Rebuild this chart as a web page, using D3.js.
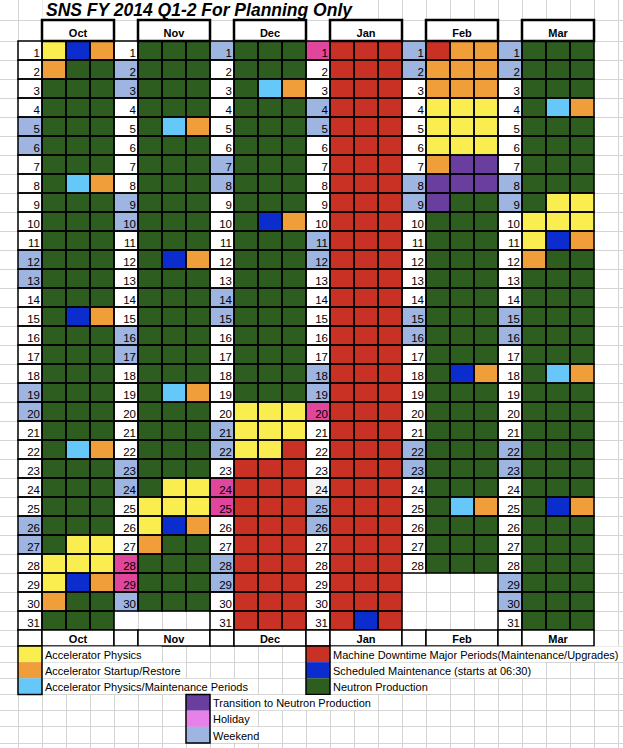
<!DOCTYPE html>
<html><head><meta charset="utf-8">
<script src="https://cdn.jsdelivr.net/npm/d3@7"></script>
<style>
body{margin:0;background:#fff}
svg{display:block}
text{font-family:Arial,"Liberation Sans",sans-serif}
</style>
</head><body><div id="chart"></div>
<script>
// ---------- DATA ----------
const title = "SNS FY 2014 Q1-2 For Planning Only";
const months = ["Oct","Nov","Dec","Jan","Feb","Mar"];
const daysInMonth = [31,30,31,31,28,31];
const weekendDays = [
  [5,6,12,13,19,20,26,27],
  [2,3,9,10,16,17,23,24,30],
  [1,7,8,14,15,21,22,28,29],
  [4,5,11,12,18,19,25,26],
  [1,2,8,9,15,16,22,23],
  [1,2,8,9,15,16,22,23,29,30]
];
const holidayDays = [[],[28,29],[24,25],[1,20],[],[]];
const selectedDays = [[],[],[],[24],[],[]];

// three shift codes per day
const octShifts = ["YBO","OGG","GGG","GGG","GGG","GGG","GGG","GLO","GGG","GGG",
                   "GGG","GGG","GGG","GGG","GBO","GGG","GGG","GGG","GGG","GGG",
                   "GGG","GLO","GGG","GGG","GGG","GGG","GYY","YYY","YBO","OGG","GGG"];
const novShifts = ["GGG","GGG","GGG","GGG","GLO","GGG","GGG","GGG","GGG","GGG",
                   "GGG","GBO","GGG","GGG","GGG","GGG","GGG","GGG","GLO","GGG",
                   "GGG","GGG","GGG","GYY","YYY","YBO","OGG","GGG","GGG","GGG"];
const decShifts = ["GGG","GGG","GLO","GGG","GGG","GGG","GGG","GGG","GGG","GBO",
                   "GGG","GGG","GGG","GGG","GGG","GGG","GGG","GGG","GGG","YYY",
                   "YYY","YYR","RRR","RRR","RRR","RRR","RRR","RRR","RRR","RRR","RRR"];
const janShifts = ["RRR","RRR","RRR","RRR","RRR","RRR","RRR","RRR","RRR","RRR",
                   "RRR","RRR","RRR","RRR","RRR","RRR","RRR","RRR","RRR","RRR",
                   "RRR","RRR","RRR","RRR","RRR","RRR","RRR","RRR","RRR","RRR","RBR"];
const febShifts = ["ROO","OOO","OOO","YYY","YYY","YYY","OPP","PPP","PGG","GGG",
                   "GGG","GGG","GGG","GGG","GGG","GGG","GGG","GBO","GGG","GGG",
                   "GGG","GGG","GGG","GGG","GLO","GGG","GGG","GGG"];
const marShifts = ["GGG","GGG","GGG","GLO","GGG","GGG","GGG","GGG","GYY","YYY",
                   "YBO","OGG","GGG","GGG","GGG","GGG","GGG","GLO","GGG","GGG",
                   "GGG","GGG","GGG","GGG","GBO","GGG","GGG","GGG","GGG","GGG","GGG"];
const monthShifts = [octShifts, novShifts, decShifts, janShifts, febShifts, marShifts];

const categoryCodes  = ["Y","O","L","R","B","G","P","H","W"];
const categoryLabels = ["Accelerator Physics","Accelerator Startup/Restore",
  "Accelerator Physics/Maintenance Periods",
  "Machine Downtime Major Periods(Maintenance/Upgrades)",
  "Scheduled Maintenance (starts at 06:30)","Neutron Production",
  "Transition to Neutron Production","Holiday","Weekend"];
const categoryColors = ["#f9ed4f","#ef9e3a","#66c8f9","#c83123","#0c2dcd","#2d5e20",
  "#6a3e9e","#e880ea","#9db5e0"];
const holidayCellColor = "#e0469b";
const selectedCellColor = "#f2f2f2";

// ---------- LAYOUT ----------
const W = 623, H = 748;
const svg = d3.select("#chart").append("svg").attr("width", W).attr("height", H);
svg.append("rect").attr("width", W).attr("height", H).attr("fill", "#fff");

const color = d3.scaleOrdinal().domain(categoryCodes).range(categoryColors);
const xCol = d3.scaleLinear().domain([0, 24]).range([18, 594]);
const xMonth = d3.scaleBand().domain(months).range([xCol(0), xCol(24)]);
const xSub = d3.scaleBand().domain(["day","s0","s1","s2"]).range([0, xMonth.bandwidth()]);
const yDay = d3.scaleBand().domain(d3.range(1, 32)).range([41, 630]);
const yLegend = d3.scaleBand().domain(d3.range(6)).range([646, 743]);
const headerTop = 20, footerTop = 630, footerBottom = 646;

// gray spreadsheet grid
const grid = svg.append("g").attr("stroke", "#d4d4d4").attr("stroke-width", 1).attr("shape-rendering", "crispEdges");
d3.range(0, 26).forEach(k => {
  grid.append("line").attr("x1", xCol(k)).attr("x2", xCol(k)).attr("y1", 0).attr("y2", H);
});
const hLines = [headerTop].concat(d3.range(1, 32).map(d => yDay(d)), [footerTop, footerBottom],
  d3.range(1, 6).map(i => yLegend(i)), [yLegend(5) + yLegend.bandwidth()]);
hLines.forEach(y => grid.append("line").attr("x1", 0).attr("x2", W).attr("y1", y).attr("y2", y));

// title
svg.append("rect").attr("x", xCol(1) + 0.5).attr("y", 0).attr("width", xCol(15) - xCol(1) - 1)
  .attr("height", headerTop - 0.5).attr("fill", "#fff");
svg.append("text").attr("x", 46).attr("y", 16).attr("font-size", 17.5)
  .attr("font-weight", "bold").attr("font-style", "italic").attr("fill", "#000").text(title);

// calendar cells
const cal = svg.append("g");
months.forEach((m, mi) => {
  const x0 = xMonth(m);
  const shifts = monthShifts[mi];
  for (let d = 1; d <= daysInMonth[mi]; d++) {
    let dayFill = "#fff";
    if (weekendDays[mi].includes(d)) dayFill = color("W");
    if (holidayDays[mi].includes(d)) dayFill = holidayCellColor;
    if (selectedDays[mi].includes(d)) dayFill = selectedCellColor;
    const y = yDay(d), h = yDay.bandwidth();
    cal.append("rect").attr("x", x0 + xSub("day")).attr("y", y)
      .attr("width", xSub.bandwidth()).attr("height", h).attr("fill", dayFill);
    cal.append("text").attr("x", x0 + xSub("day") + xSub.bandwidth() - 2).attr("y", y + h - 3.5)
      .attr("text-anchor", "end").attr("font-size", 11.5).attr("fill", "#000").text(d);
    ["s0","s1","s2"].forEach((s, si) => {
      cal.append("rect").attr("x", x0 + xSub(s)).attr("y", y)
        .attr("width", xSub.bandwidth()).attr("height", h)
        .attr("fill", color(shifts[d - 1][si]));
    });
  }
});
// black cell borders
const borders = svg.append("g").attr("fill", "none").attr("stroke", "#000").attr("stroke-width", 1.5);
months.forEach((m, mi) => {
  const x0 = xMonth(m);
  for (let d = 1; d <= daysInMonth[mi]; d++) {
    ["day","s0","s1","s2"].forEach(s => {
      borders.append("rect").attr("x", x0 + xSub(s)).attr("y", yDay(d))
        .attr("width", xSub.bandwidth()).attr("height", yDay.bandwidth());
    });
  }
});

// month headers
months.forEach(m => {
  const x = xMonth(m) + xSub("s0"), w = xSub.bandwidth() * 3;
  svg.append("rect").attr("x", x).attr("y", headerTop).attr("width", w).attr("height", 41 - headerTop)
    .attr("fill", "#fff").attr("stroke", "#000").attr("stroke-width", 2.5);
  svg.append("text").attr("x", x + w / 2).attr("y", 36.5).attr("text-anchor", "middle")
    .attr("font-size", 11).attr("font-weight", "bold").text(m);
});

// footer
months.forEach(m => {
  const x0 = xMonth(m);
  svg.append("rect").attr("x", x0).attr("y", footerTop).attr("width", xSub.bandwidth())
    .attr("height", footerBottom - footerTop).attr("fill", "#fff").attr("stroke", "#000").attr("stroke-width", 1.5);
  const x = x0 + xSub("s0"), w = xSub.bandwidth() * 3;
  svg.append("rect").attr("x", x).attr("y", footerTop).attr("width", w)
    .attr("height", footerBottom - footerTop).attr("fill", "#fff").attr("stroke", "#000").attr("stroke-width", 1.5);
  svg.append("text").attr("x", x + w / 2).attr("y", footerBottom - 3.5).attr("text-anchor", "middle")
    .attr("font-size", 11).attr("font-weight", "bold").text(m);
});

// legend
const legendGroups = [
  {col: 0, row: 0, codes: ["Y","O","L"]},
  {col: 12, row: 0, codes: ["R","B","G"]},
  {col: 7, row: 3, codes: ["P","H","W"]}
];
legendGroups.forEach(g => {
  const x = xCol(g.col), sw = xCol(1) - xCol(0);
  g.codes.forEach((c, i) => {
    const y = yLegend(g.row + i), h = yLegend.bandwidth();
    svg.append("rect").attr("x", x).attr("y", y).attr("width", sw).attr("height", h).attr("fill", color(c));
    const cover = svg.append("rect").attr("x", x + sw + 0.5).attr("y", y + 0.5).attr("height", h - 1).attr("fill", "#fff");
    const t = svg.append("text").attr("x", x + sw + 3).attr("y", y + h - 3.5)
      .attr("font-size", 11).attr("fill", "#000").text(categoryLabels[categoryCodes.indexOf(c)]);
    const end = x + sw + 3 + t.node().getComputedTextLength();
    const k = Math.ceil(xCol.invert(end));
    cover.attr("width", Math.max(0, xCol(k) - (x + sw) - 1));
    t.raise();
  });
  const y0 = yLegend(g.row), hh = yLegend.bandwidth() * 3;
  svg.append("rect").attr("x", x).attr("y", y0).attr("width", sw).attr("height", hh)
    .attr("fill", "none").attr("stroke", "#000").attr("stroke-width", 1.5);
});
</script>
</body></html>
